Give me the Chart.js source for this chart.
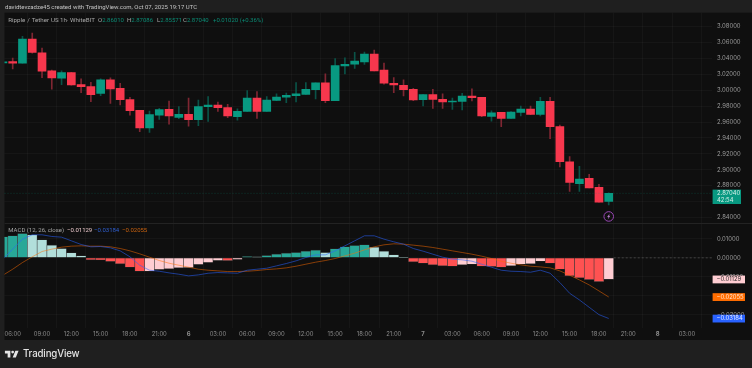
<!DOCTYPE html>
<html><head><meta charset="utf-8">
<script src="https://cdn.jsdelivr.net/npm/chart.js@4"></script>
<style>
html,body{margin:0;padding:0;background:#1f1f1f;width:752px;height:368px;overflow:hidden}
#wrap{position:relative;width:752px;height:368px}
canvas{position:absolute;left:0;top:0}
.t{position:absolute;font-family:Roboto,Inter,sans-serif;font-size:6px;line-height:8px;white-space:nowrap;color:#a6a6a6}
.g{color:#0b8a74}
#brand{position:absolute;left:23px;top:347px;font:500 9.7px/14px Inter,Roboto,sans-serif;color:#e4e4e4;letter-spacing:-.15px}
#logo{position:absolute;left:4.4px;top:347.8px}
</style></head><body>
<div id="wrap">
<canvas id="c" width="752" height="368"></canvas>
<div class="t" style="left:5px;top:3px;color:#c4c4c4">davidtevzadze45 created with TradingView.com, Oct 07, 2025 19:17 UTC</div>
<div class="t" style="left:8.3px;top:16px;font-size:6.2px;word-spacing:.4px">Ripple / Tether US</div>
<div class="t" style="left:56.5px;top:16px">·</div>
<div class="t" style="left:60px;top:16px;font-size:6.2px">1h</div>
<div class="t" style="left:66.5px;top:16px">·</div>
<div class="t" style="left:70px;top:16px;font-size:6.2px">WhiteBIT</div>
<div class="t" style="left:98px;top:16px">O<span class="g">2.86010</span></div>
<div class="t" style="left:127px;top:16px">H<span class="g">2.87086</span></div>
<div class="t" style="left:157px;top:16px">L<span class="g">2.85571</span></div>
<div class="t" style="left:183px;top:16px">C<span class="g">2.87040</span></div>
<div class="t g" style="left:213px;top:16px">+0.01020 (+0.36%)</div>
<div class="t" style="left:8.3px;top:226px">MACD (12, 26, close)</div>
<div class="t" style="left:67px;top:226px;color:#e8c6c9">−0.01129</div>
<div class="t" style="left:94px;top:226px;color:#2f5fd0">−0.03184</div>
<div class="t" style="left:122px;top:226px;color:#c9620f">−0.02055</div>
<svg id="logo" width="16.4" height="12.8" viewBox="0 0 36 28"><path fill="#e4e4e4" d="M14 6H2v6h6v9h6V6Zm12 15h-7l6-15h7l-6 15Zm-7-9a3 3 0 1 0 0-6 3 3 0 0 0 0 6Z"/></svg>
<div id="brand">TradingView</div>
</div>
<script>
const hourLabels = ['05:00','06:00','07:00','08:00','09:00','10:00','11:00','12:00','13:00','14:00','15:00','16:00','17:00','18:00','19:00','20:00','21:00','22:00','23:00','6','01:00','02:00','03:00','04:00','05:00','06:00','07:00','08:00','09:00','10:00','11:00','12:00','13:00','14:00','15:00','16:00','17:00','18:00','19:00','20:00','21:00','22:00','23:00','7','01:00','02:00','03:00','04:00','05:00','06:00','07:00','08:00','09:00','10:00','11:00','12:00','13:00','14:00','15:00','16:00','17:00','18:00','19:00'];
const opens = [3.0345,3.0362,3.0341,3.0644,3.0472,3.0244,3.0152,3.0223,3.0072,3.0046,2.9962,3.0131,3.0025,2.9882,2.9747,2.9528,2.9688,2.9760,2.9659,2.9697,2.9630,2.9794,2.9815,2.9781,2.9667,2.9735,2.9903,2.9735,2.9874,2.9912,2.9933,2.9949,3.0008,3.0093,2.9869,3.0307,3.0328,3.0358,3.0455,3.0253,3.0088,3.0063,3.0013,2.9882,2.9945,2.9886,2.9853,2.9861,2.9928,2.9912,2.9672,2.9722,2.9646,2.9722,2.9764,2.9697,2.9861,2.9545,2.9099,2.8825,2.8893,2.8779,2.8601];
const highs = [3.0358,3.0404,3.0678,3.0720,3.0530,3.0253,3.0244,3.0227,3.0143,3.0101,3.0143,3.0156,3.0088,2.9912,2.9747,2.9739,2.9773,2.9865,2.9794,2.9903,2.9878,2.9920,2.9853,2.9823,2.9768,2.9996,2.9983,2.9920,2.9954,2.9966,3.0097,3.0097,3.0093,3.0206,3.0400,3.0408,3.0476,3.0480,3.0505,3.0341,3.0160,3.0131,3.0025,2.9945,3.0013,2.9954,2.9903,2.9962,3.0017,2.9912,2.9743,2.9722,2.9731,2.9802,2.9802,2.9912,2.9912,2.9562,2.9166,2.9044,2.8943,2.8817,2.87086];
const lows = [3.0345,3.0269,3.0341,3.0467,3.0160,3.0013,3.0072,3.0063,2.9971,2.9857,2.9933,2.9836,2.9815,2.9688,2.9478,2.9470,2.9634,2.9575,2.9642,2.9550,2.9554,2.9608,2.9735,2.9655,2.9625,2.9735,2.9646,2.9735,2.9869,2.9844,2.9853,2.9949,2.9891,2.9844,2.9869,3.0206,3.0274,3.0324,3.0244,3.0076,2.9971,2.9928,2.9869,2.9802,2.9773,2.9773,2.9760,2.9752,2.9865,2.9667,2.9613,2.9541,2.9646,2.9676,2.9693,2.9676,2.9390,2.9036,2.8729,2.8729,2.8771,2.8594,2.85571];
const closes = [3.0358,3.0341,3.0644,3.0476,3.0240,3.0156,3.0223,3.0067,3.0046,2.9945,3.0131,3.0017,2.9882,2.9743,2.9528,2.9693,2.9756,2.9676,2.9697,2.9630,2.9794,2.9815,2.9781,2.9676,2.9735,2.9903,2.9735,2.9878,2.9916,2.9937,2.9954,3.0013,3.0093,2.9869,3.0312,3.0328,3.0366,3.0455,3.0244,3.0088,3.0067,3.0008,2.9878,2.9945,2.9886,2.9853,2.9865,2.9928,2.9907,2.9676,2.9718,2.9646,2.9726,2.9764,2.9697,2.9861,2.9541,2.9103,2.8842,2.8884,2.8771,2.8594,2.87040];
const histogram = [0.01105,0.01158,0.0128,0.0121,0.00947,0.00667,0.00491,0.00263,0.00105,-0.00105,-0.0011,-0.00193,-0.00316,-0.00491,-0.00702,-0.00702,-0.00614,-0.00579,-0.00526,-0.00509,-0.00351,-0.00246,-0.0014,-0.00145,-0.00088,0.0007,0.0005,0.00123,0.00193,0.00246,0.00281,0.00351,0.00403,0.00281,0.00474,0.00579,0.00649,0.00684,0.00561,0.00351,0.00158,0.00018,-0.0021,-0.00281,-0.00368,-0.00421,-0.00439,-0.00368,-0.00333,-0.00439,-0.00456,-0.00491,-0.00421,-0.00333,-0.00316,-0.00175,-0.00281,-0.00596,-0.00947,-0.01052,-0.0114,-0.01245,-0.01129];
const macdLine = [-0.0007,0.00456,0.00982,0.0121,0.0121,0.01123,0.01087,0.00895,0.00702,0.00579,0.00596,0.00526,0.00368,0.00053,-0.00386,-0.00649,-0.00702,-0.00789,-0.00859,-0.00947,-0.00895,-0.00807,-0.00772,-0.00789,-0.00807,-0.00649,-0.00596,-0.00544,-0.00421,-0.00298,-0.00158,0.00018,0.00158,0.00158,0.00368,0.00631,0.00895,0.01158,0.01158,0.00982,0.00842,0.00719,0.00491,0.00351,0.00193,0.00035,-0.0007,-0.00105,-0.00175,-0.00333,-0.00491,-0.00649,-0.00702,-0.00719,-0.00754,-0.00649,-0.00807,-0.01298,-0.01859,-0.0221,-0.02596,-0.02982,-0.03184];
const signalLine = [-0.00912,-0.00596,-0.00246,0.00053,0.00333,0.00456,0.00561,0.00614,0.00631,0.00614,0.00614,0.00579,0.00491,0.00368,0.0021,0.00035,-0.0014,-0.00281,-0.00386,-0.00491,-0.00596,-0.00649,-0.00684,-0.00719,-0.00719,-0.00702,-0.00667,-0.00614,-0.00579,-0.00526,-0.00439,-0.00333,-0.00228,-0.0014,-0.00035,0.00105,0.00246,0.00421,0.00579,0.00684,0.00737,0.00719,0.00667,0.00614,0.00544,0.00456,0.00368,0.00281,0.00193,0.00088,-0.00035,-0.00175,-0.00281,-0.00368,-0.00439,-0.00474,-0.00526,-0.00684,-0.00912,-0.01158,-0.01421,-0.01736,-0.02055];
const timeTickLabels = ['06:00','09:00','12:00','15:00','18:00','21:00','6','03:00','06:00','09:00','12:00','15:00','18:00','21:00','7','03:00','06:00','09:00','12:00','15:00','18:00','21:00','8','03:00'];
const lastPrice = 2.8704, countdown = '42:54', macdLast = -0.01129, signalLast = -0.02055, lineLast = -0.03184, alertPrice = 2.8413;

const UP='#089981', DOWN='#f7374d', WICK_UP='#0a5348', WICK_DOWN='#7f2632';
const xs = hourLabels.map((_,i)=>i-1);
const candleUp = closes.map((c,i)=>c>=opens[i]);
const histColors = histogram.map((v,i)=>{
  const prev = i? histogram[i-1] : v;
  if(v>=0) return v>=prev ? '#28a898' : '#b2dfdb';
  return v<prev ? '#ff5252' : '#ffcdd2';
});
const FONT='Inter, Roboto, sans-serif';
const GRID='rgba(255,255,255,0.03)';
const fmt = v => (v<0?'−':'')+Math.abs(v).toFixed(5);

const paneDecor = {
  id:'paneDecor',
  beforeDraw(chart){
    const {ctx,chartArea:a}=chart;
    ctx.save();
    ctx.fillStyle='#0f0f0f';
    ctx.fillRect(a.left,12.7,752-a.left,340-12.7);
    ctx.restore();
  },
  afterDatasetsDraw(chart){
    const {ctx,chartArea:a,scales:{x,y,m}}=chart;
    ctx.save();
    ctx.strokeStyle='#232323'; ctx.lineWidth=1;
    ctx.beginPath(); ctx.moveTo(a.left,Math.round(m.top)+.5); ctx.lineTo(752,Math.round(m.top)+.5); ctx.stroke();
    const py=y.getPixelForValue(lastPrice);
    ctx.setLineDash([1,2]); ctx.strokeStyle='rgba(8,153,129,.3)';
    ctx.beginPath(); ctx.moveTo(a.left,py); ctx.lineTo(a.right,py); ctx.stroke();
    const zy=m.getPixelForValue(0);
    ctx.setLineDash([2,2]); ctx.strokeStyle='rgba(150,150,150,.35)';
    ctx.beginPath(); ctx.moveTo(x.getPixelForValue(61)+5,zy); ctx.lineTo(a.right,zy); ctx.stroke();
    ctx.setLineDash([]);
    // alert marker
    const ax=x.getPixelForValue(61), ay=y.getPixelForValue(alertPrice);
    ctx.strokeStyle='#9a46b6'; ctx.lineWidth=1;
    ctx.beginPath(); ctx.arc(ax,ay,4.8,0,Math.PI*2); ctx.stroke();
    ctx.fillStyle='#b477c9';
    ctx.beginPath(); ctx.moveTo(ax+1,ay-3); ctx.lineTo(ax-1.6,ay+.5); ctx.lineTo(ax-.2,ay+.5); ctx.lineTo(ax-1,ay+3); ctx.lineTo(ax+1.6,ay-.6); ctx.lineTo(ax+.2,ay-.6); ctx.closePath(); ctx.fill();
    ctx.restore();
  },
  afterDraw(chart){
    const {ctx,chartArea:a,scales:{y,m}}=chart;
    ctx.save();
    ctx.textBaseline='middle'; ctx.textAlign='left';
    ctx.font='5.9px '+FONT;
    const py=y.getPixelForValue(lastPrice);
    ctx.fillStyle=UP; ctx.fillRect(a.right+.6,py-3.7,28.4,14.4);
    ctx.fillStyle='#d4efe9';
    ctx.fillText(fmt(lastPrice),a.right+5,py-.2);
    ctx.fillText(countdown,a.right+5,py+6.8);
    const tag=(v,bg,fg)=>{
      const p=m.getPixelForValue(v);
      ctx.fillStyle=bg; ctx.fillRect(a.right+.6,p-3.8,32.4,7.8);
      ctx.fillStyle=fg; ctx.fillText(fmt(v),a.right+4.5,p+.2);
    };
    tag(macdLast,'#ffcdd2','#2a2a2a');
    tag(signalLast,'#ff6d00','#ffe4d0');
    tag(lineLast,'#2962ff','#e6ecff');
    ctx.restore();
  }
};

new Chart(document.getElementById('c'),{
  data:{datasets:[
    {type:'bar',label:'Wick',yAxisID:'y',grouped:false,order:3,barThickness:1,
      data:xs.map((v,i)=>({x:v,y:[lows[i],highs[i]]})),
      backgroundColor:candleUp.map(u=>u?WICK_UP:WICK_DOWN)},
    {type:'bar',label:'Candle',yAxisID:'y',grouped:false,order:2,barThickness:8,minBarLength:1,
      data:xs.map((v,i)=>({x:v,y:[opens[i],closes[i]]})),
      backgroundColor:candleUp.map(u=>u?UP:DOWN)},
    {type:'bar',label:'Histogram',yAxisID:'m',grouped:false,order:3,barThickness:9.8,
      data:xs.map((v,i)=>({x:v,y:histogram[i]})),
      backgroundColor:histColors,borderColor:'rgba(70,70,70,.75)',borderWidth:.6},
    {type:'line',label:'MACD',yAxisID:'m',order:1,borderColor:'rgba(41,98,255,.55)',borderWidth:1,pointRadius:0,tension:0,
      data:xs.map((v,i)=>({x:v,y:macdLine[i]}))},
    {type:'line',label:'Signal',yAxisID:'m',order:1,borderColor:'rgba(255,109,0,.5)',borderWidth:1,pointRadius:0,tension:0,
      data:xs.map((v,i)=>({x:v,y:signalLine[i]}))}
  ]},
  options:{
    responsive:false,animation:false,
    layout:{padding:{left:4.5,top:12.7,right:0,bottom:28}},
    plugins:{legend:{display:false},tooltip:{enabled:false}},
    scales:{
      x:{type:'linear',min:-0.84,max:71.57,offset:false,
        afterFit(s){s.height=12.3;},
        grid:{color:GRID,drawTicks:false},border:{display:false},
        ticks:{stepSize:3,includeBounds:false,autoSkip:false,maxRotation:0,padding:3,color:'#8c8c8c',
          font:c=>({family:FONT,size:5.9,weight:/:/.test(timeTickLabels[c.tick?c.tick.value/3:0]||':')?400:700}),
          callback:v=>timeTickLabels[v/3]}},
      y:{position:'right',stack:'panes',stackWeight:209.8,min:2.8331,max:3.0976,
        afterFit(s){s.width=40;},
        grid:{color:GRID,drawTicks:false},border:{display:false},
        ticks:{stepSize:0.02,includeBounds:false,autoSkip:false,padding:5,color:'#9a9a9a',font:{family:FONT,size:5.9},
          callback:v=>Math.abs(v-2.86)<1e-6?'':v.toFixed(5)}},
      m:{position:'right',stack:'panes',stackWeight:104.5,min:-0.03668,max:0.01832,
        afterFit(s){s.width=40;},
        grid:{color:GRID,drawTicks:false},border:{display:false},
        ticks:{stepSize:0.01,includeBounds:false,autoSkip:false,padding:5,color:'#9a9a9a',font:{family:FONT,size:5.9},
          callback:v=>fmt(Math.abs(v)<1e-9?0:v)}}
    }
  },
  plugins:[paneDecor]
});
</script>
</body></html>
